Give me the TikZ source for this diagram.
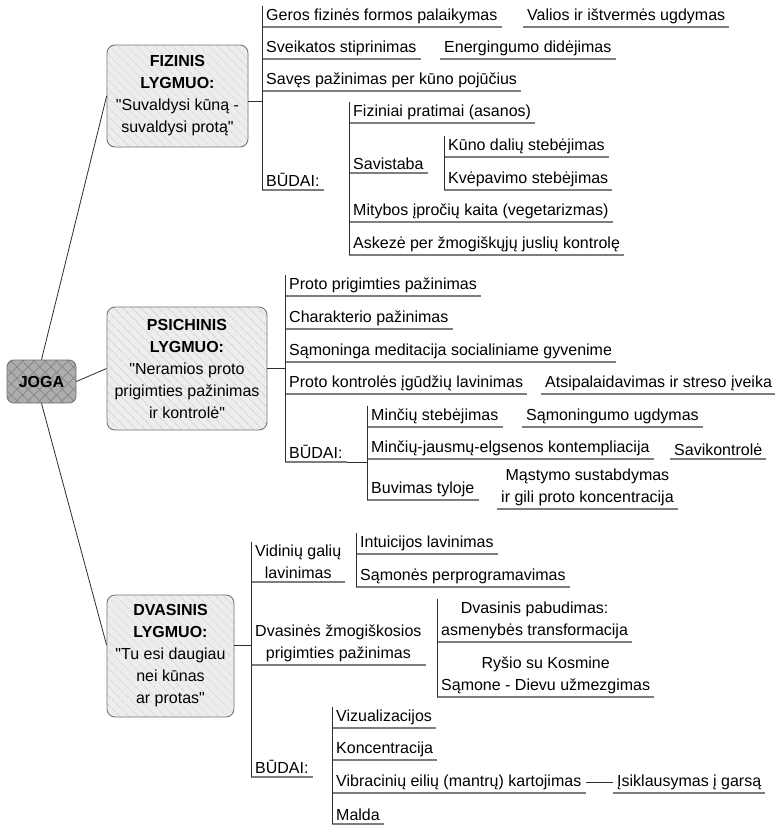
\documentclass[tikz,border=0pt]{standalone}
\usepackage{fontspec}
\setmainfont{Liberation Sans}[Ligatures=TeXOff]
\usetikzlibrary{patterns.meta}
\definecolor{boxGray}{HTML}{EDEDED}
\definecolor{hatchGray}{HTML}{C4C4C4}
\definecolor{rootGray}{HTML}{ADADAD}
\definecolor{rootHatch}{HTML}{858585}
\definecolor{edgeGray}{HTML}{767676}
\definecolor{ulGray}{HTML}{7E7E7E}
\definecolor{lineDark}{HTML}{2E2E2E}

\begin{document}
\begin{tikzpicture}[x=1pt,y=-1pt,
  every node/.style={font=\fontsize{16}{22}\selectfont},
  level/.style={draw=edgeGray,line width=0.9pt,rounded corners=8pt,align=center,inner sep=0pt,
    preaction={fill=boxGray},pattern={Lines[angle=-45,distance=6.5pt,line width=0.7pt]},pattern color=hatchGray},
  root/.style={draw=edgeGray,line width=0.9pt,rounded corners=7pt,align=center,inner sep=0pt,
    preaction={fill=rootGray},pattern={Hatch[angle=45,distance=8pt,line width=0.7pt]},pattern color=rootHatch},
  leaf/.style={anchor=south west,inner xsep=4pt,inner ysep=3pt,align=left,
    append after command={(\tikzlastnode.south west) edge[draw=ulGray,line width=1.5pt] (\tikzlastnode.south east)}},
  twin/.style={leaf,align=center},
  bus/.style={draw=lineDark,line width=0.8pt},
  link/.style={draw=lineDark,line width=0.8pt}]
  \useasboundingbox (0,0) rectangle (775,825);
  \fill[white] (0,0) rectangle (775,825);
  \clip (0,0) rectangle (775,825);

  \node[root,minimum width=69pt,minimum height=43pt] (joga) at (41.5,381.5) {\textbf{JOGA}};

  \node[level,minimum width=141pt,minimum height=102pt] (fiz) at (177.5,96)
    {\textbf{FIZINIS}\\\textbf{LYGMUO:}\\"Suvaldysi kūną -\\suvaldysi protą"};
  \node[level,minimum width=160pt,minimum height=123pt] (psi) at (187,368.5)
    {\textbf{PSICHINIS}\\\textbf{LYGMUO:}\\"Neramios proto\\prigimties pažinimas\\ir kontrolė"};
  \node[level,minimum width=127pt,minimum height=122pt] (dva) at (170.5,656)
    {\textbf{DVASINIS}\\\textbf{LYGMUO:}\\"Tu esi daugiau\\nei kūnas\\ar protas"};

  \draw[link] (joga.north) -- (fiz.west);
  \draw[link] (joga.east) -- (psi.west);
  \draw[link] (joga.south) -- ([yshift=11pt]dva.west);

  \node[leaf] (geros) at (262,27) {Geros fizinės formos palaikymas};
  \node[leaf] (valios) at (523,27) {Valios ir ištvermės ugdymas};
  \node[leaf] (sveik) at (262,59) {Sveikatos stiprinimas};
  \node[leaf] (energ) at (440,59) {Energingumo didėjimas};
  \node[leaf] (saves) at (262,91) {Savęs pažinimas per kūno pojūčius};
  \node[leaf] (fbud) at (262,190) {BŪDAI:};
  \node[leaf] (asan) at (349,123) {Fiziniai pratimai (asanos)};
  \node[leaf] (savist) at (349,173) {Savistaba};
  \node[leaf] (kuno) at (444,157) {Kūno dalių stebėjimas};
  \node[leaf] (kvep) at (444,190) {Kvėpavimo stebėjimas};
  \node[leaf] (mityb) at (349,222) {Mitybos įpročių kaita (vegetarizmas)};
  \node[leaf] (askez) at (349,255) {Askezė per žmogiškųjų juslių kontrolę};
  \draw[link] ([yshift=-5pt]fiz.east) -- ([yshift=-5pt]fiz.east -| geros.west);
  \draw[bus] (geros.north west) -- (fbud.south west);
  \draw[bus] (asan.north west) -- (askez.south west);
  \draw[bus] (kuno.north west) -- (kvep.south west);

  \node[leaf] (proto) at (285,296) {Proto prigimties pažinimas};
  \node[leaf] (charakt) at (285,329) {Charakterio pažinimas};
  \node[leaf] (sammed) at (285,362) {Sąmoninga meditacija socialiniame gyvenime};
  \node[leaf] (protok) at (285,394) {Proto kontrolės įgūdžių lavinimas};
  \node[leaf] (atsip) at (541,394) {Atsipalaidavimas ir streso įveika};
  \node[leaf] (pbud) at (285,462) {BŪDAI:};
  \node[leaf] (minc) at (367,427) {Minčių stebėjimas};
  \node[leaf] (samug) at (522,427) {Sąmoningumo ugdymas};
  \node[leaf] (mincj) at (367,459) {Minčių-jausmų-elgsenos kontempliacija};
  \node[leaf] (savik) at (670,459) {Savikontrolė};
  \node[leaf] (tyla) at (367,500) {Buvimas tyloje};
  \node[twin] (mast) at (497,509) {Mąstymo sustabdymas\\ir gili proto koncentracija};
  \draw[link] (psi.east) -- (psi.east -| proto.west);
  \draw[bus] (proto.north west) -- (pbud.south west);
  \draw[link] (pbud.south east) -- (pbud.south east -| minc.west);
  \draw[bus] (minc.north west) -- (tyla.south west);

  \node[twin] (vidin) at (251,582) {Vidinių galių\\lavinimas};
  \node[leaf] (intuic) at (356,554) {Intuicijos lavinimas};
  \node[leaf] (samper) at (356,587) {Sąmonės perprogramavimas};
  \node[twin] (dvasz) at (251,665) {Dvasinės žmogiškosios\\prigimties pažinimas};
  \node[twin] (pabud) at (437,642) {Dvasinis pabudimas:\\asmenybės transformacija};
  \node[twin] (rysio) at (437,697) {Ryšio su Kosmine\\Sąmone - Dievu užmezgimas};
  \node[leaf] (dbud) at (251,777) {BŪDAI:};
  \node[leaf] (vizual) at (332,728) {Vizualizacijos};
  \node[leaf] (koncen) at (332,760) {Koncentracija};
  \node[leaf] (vibrac) at (332,793) {Vibracinių eilių (mantrų) kartojimas};
  \node[leaf] (isikl) at (613,793) {Įsiklausymas į garsą};
  \node[leaf] (malda) at (332,824) {Malda};
  \draw[link] ([yshift=11pt]dva.east) -- ([yshift=11pt]dva.east -| vidin.west);
  \draw[bus] (vidin.north west) -- (dbud.south west);
  \draw[bus] (intuic.north west) -- (samper.south west);
  \draw[bus] (pabud.north west) -- (rysio.south west);
  \draw[bus] (vizual.north west) -- (malda.south west);
  \draw[link] (vibrac.east) -- (isikl.west);
\end{tikzpicture}
\end{document}
